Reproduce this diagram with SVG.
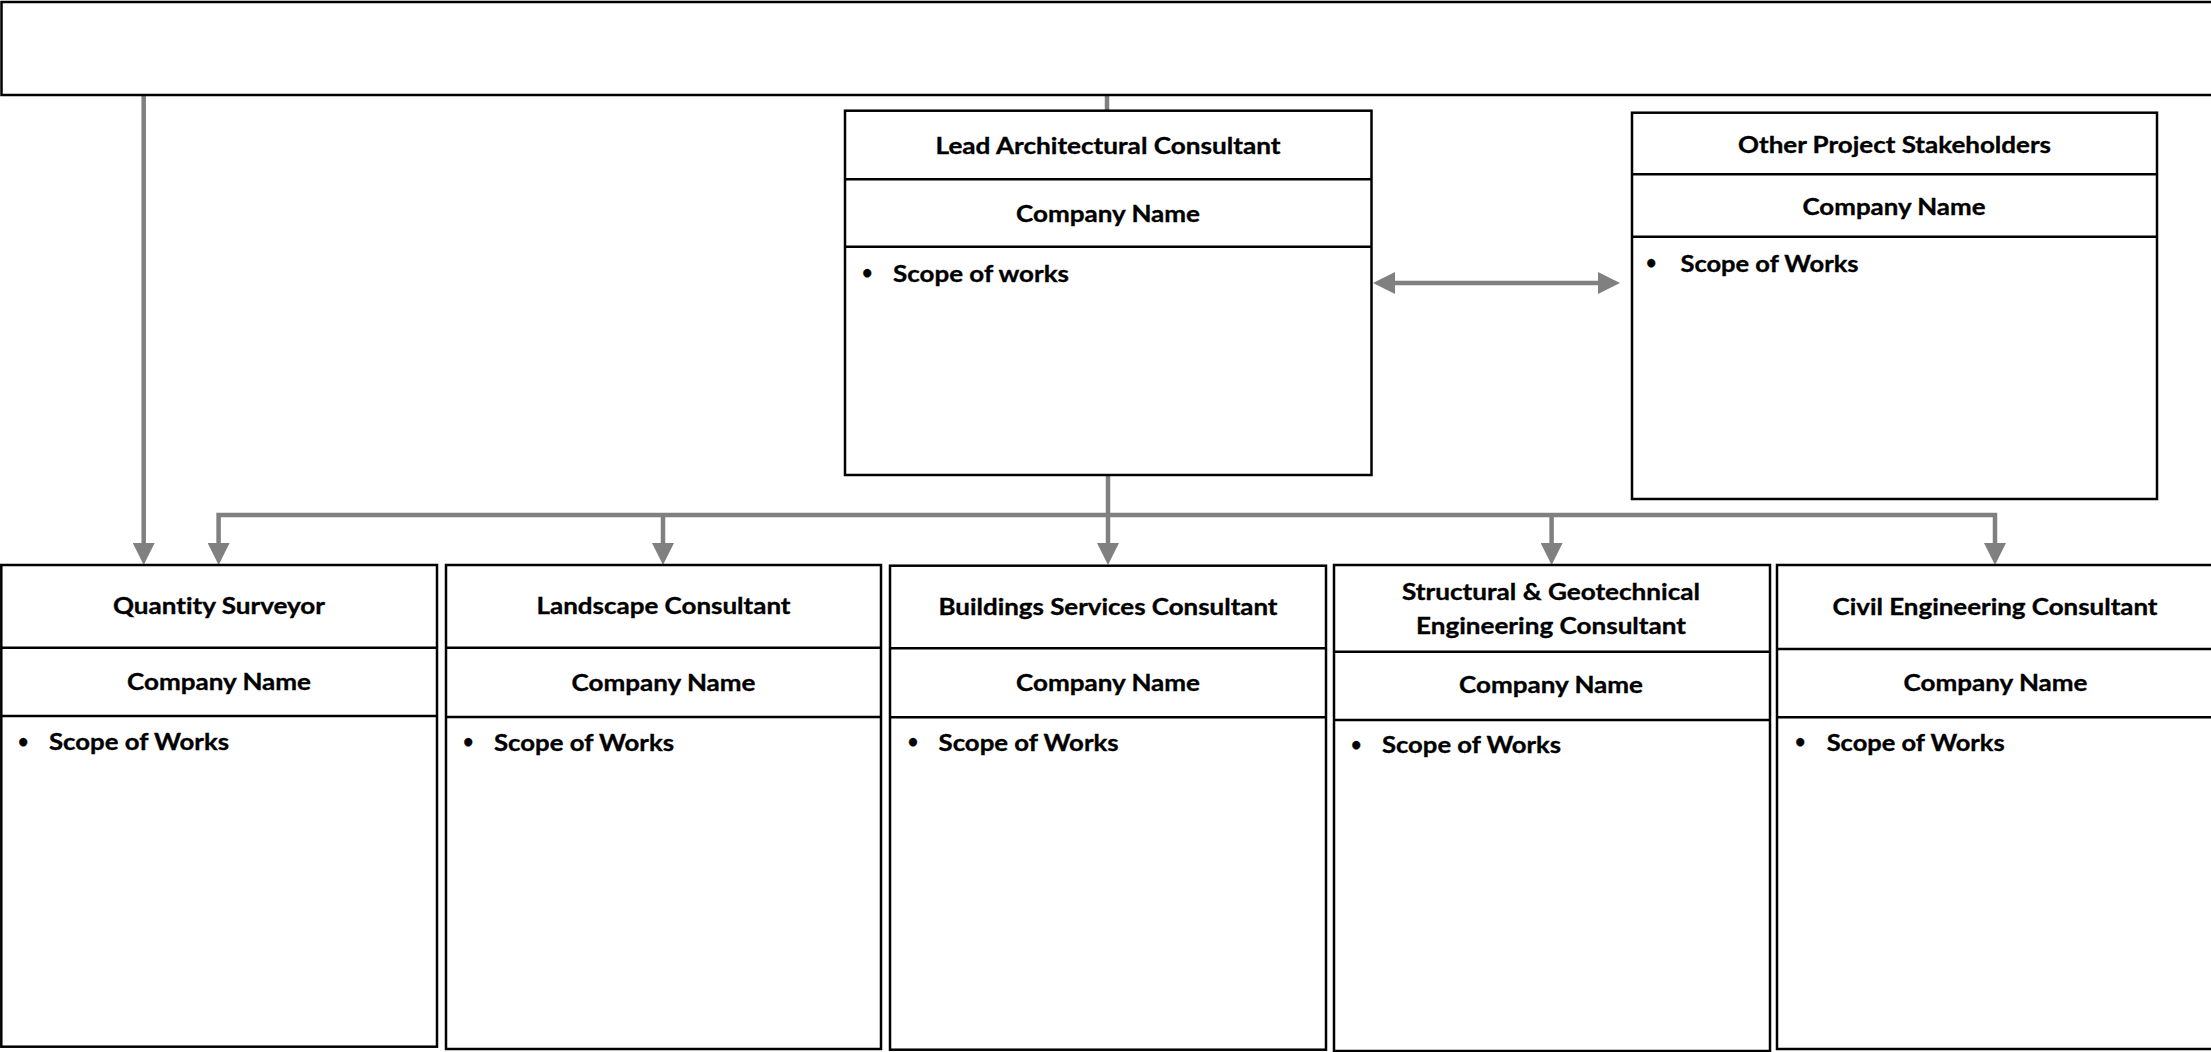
<svg xmlns="http://www.w3.org/2000/svg" width="2211" height="1052" viewBox="0 0 2211 1052">
<style>
.box{fill:#fff;stroke:#000;stroke-width:2.5}
.div{stroke:#000;stroke-width:2.5}
text{font-family:Lato,"Open Sans","Liberation Sans",sans-serif;font-weight:700;font-size:23.5px;fill:#000;font-variant-ligatures:none;stroke:#000;stroke-width:0.35}
.c{text-anchor:middle}
.b{font-size:18px}
.conn{fill:none;stroke:#808080;stroke-width:4.5}
</style>
<defs>
<marker id="ah" viewBox="0 0 22 22" refX="0" refY="11" markerWidth="22" markerHeight="22" markerUnits="userSpaceOnUse" orient="auto-start-reverse">
<path d="M0,0 L22,11 L0,22 z" fill="#808080"/>
</marker>
</defs>
<rect width="2211" height="1052" fill="#fff"/>

<g id="connectors">
<path class="conn" d="M143.7,95 V543" marker-end="url(#ah)"/>
<path class="conn" d="M1107,95 V111"/>
<path class="conn" d="M1108,475 V543" marker-end="url(#ah)"/>
<path class="conn" d="M218.6,543 V515 H1995 V543" marker-start="url(#ah)" marker-end="url(#ah)"/>
<path class="conn" d="M663,515 V543" marker-end="url(#ah)"/>
<path class="conn" d="M1551.6,515 V543" marker-end="url(#ah)"/>
<path class="conn" d="M1395,283 H1598" marker-start="url(#ah)" marker-end="url(#ah)"/>
</g>

<g id="top">
<rect class="box" x="1.5" y="2" width="2220" height="93"/>
</g>

<g id="lead-architectural">
<rect class="box" x="845" y="110.7" width="526.5" height="364.3"/>
<line class="div" x1="845" y1="179.3" x2="1371.5" y2="179.3"/>
<line class="div" x1="845" y1="246.7" x2="1371.5" y2="246.7"/>
<text class="c" x="1108" y="154" textLength="345" lengthAdjust="spacingAndGlyphs">Lead Architectural Consultant</text>
<text class="c" x="1108" y="221.5" textLength="184" lengthAdjust="spacingAndGlyphs">Company Name</text>
<text class="b" x="862" y="279">•</text>
<text x="893" y="281.7" textLength="176" lengthAdjust="spacingAndGlyphs">Scope of works</text>
</g>

<g id="other-stakeholders">
<rect class="box" x="1632" y="112.7" width="525" height="386.3"/>
<line class="div" x1="1632" y1="174.3" x2="2157" y2="174.3"/>
<line class="div" x1="1632" y1="236.7" x2="2157" y2="236.7"/>
<text class="c" x="1894.5" y="152.7" textLength="313" lengthAdjust="spacingAndGlyphs">Other Project Stakeholders</text>
<text class="c" x="1894" y="215" textLength="183" lengthAdjust="spacingAndGlyphs">Company Name</text>
<text class="b" x="1646" y="269">•</text>
<text x="1680.5" y="271.7" textLength="178" lengthAdjust="spacingAndGlyphs">Scope of Works</text>
</g>

<g id="quantity-surveyor">
<rect class="box" x="1.3" y="565" width="435.7" height="481.7"/>
<line class="div" x1="1.3" y1="647.7" x2="437" y2="647.7"/>
<line class="div" x1="1.3" y1="716" x2="437" y2="716"/>
<text class="c" x="219" y="614" textLength="212" lengthAdjust="spacingAndGlyphs">Quantity Surveyor</text>
<text class="c" x="219" y="690" textLength="184" lengthAdjust="spacingAndGlyphs">Company Name</text>
<text class="b" x="18" y="747.5">•</text>
<text x="49" y="750" textLength="180" lengthAdjust="spacingAndGlyphs">Scope of Works</text>
</g>

<g id="landscape">
<rect class="box" x="446" y="565" width="435" height="484"/>
<line class="div" x1="446" y1="647.7" x2="881" y2="647.7"/>
<line class="div" x1="446" y1="717" x2="881" y2="717"/>
<text class="c" x="663.5" y="614" textLength="254" lengthAdjust="spacingAndGlyphs">Landscape Consultant</text>
<text class="c" x="663.5" y="690.7" textLength="184" lengthAdjust="spacingAndGlyphs">Company Name</text>
<text class="b" x="463" y="748">•</text>
<text x="494" y="750.7" textLength="180" lengthAdjust="spacingAndGlyphs">Scope of Works</text>
</g>

<g id="building-services">
<rect class="box" x="890" y="565.7" width="436" height="484"/>
<line class="div" x1="890" y1="648.3" x2="1326" y2="648.3"/>
<line class="div" x1="890" y1="717.3" x2="1326" y2="717.3"/>
<text class="c" x="1108" y="615" textLength="339" lengthAdjust="spacingAndGlyphs">Buildings Services Consultant</text>
<text class="c" x="1108" y="690.7" textLength="184" lengthAdjust="spacingAndGlyphs">Company Name</text>
<text class="b" x="907.7" y="748">•</text>
<text x="938.6" y="750.7" textLength="180" lengthAdjust="spacingAndGlyphs">Scope of Works</text>
</g>

<g id="structural-geotechnical">
<rect class="box" x="1334" y="565" width="436" height="486"/>
<line class="div" x1="1334" y1="651.7" x2="1770" y2="651.7"/>
<line class="div" x1="1334" y1="720" x2="1770" y2="720"/>
<text class="c" x="1551" y="600" textLength="298" lengthAdjust="spacingAndGlyphs">Structural &amp; Geotechnical</text>
<text class="c" x="1551" y="634" textLength="270" lengthAdjust="spacingAndGlyphs">Engineering Consultant</text>
<text class="c" x="1551" y="693.3" textLength="184" lengthAdjust="spacingAndGlyphs">Company Name</text>
<text class="b" x="1351" y="750.5">•</text>
<text x="1382" y="753.3" textLength="179" lengthAdjust="spacingAndGlyphs">Scope of Works</text>
</g>

<g id="civil-engineering">
<rect class="box" x="1777" y="565" width="440" height="484"/>
<line class="div" x1="1777" y1="649" x2="2217" y2="649"/>
<line class="div" x1="1777" y1="717.3" x2="2217" y2="717.3"/>
<text class="c" x="1995" y="615" textLength="325" lengthAdjust="spacingAndGlyphs">Civil Engineering Consultant</text>
<text class="c" x="1995.5" y="690.7" textLength="184" lengthAdjust="spacingAndGlyphs">Company Name</text>
<text class="b" x="1795" y="748">•</text>
<text x="1826.7" y="750.7" textLength="178" lengthAdjust="spacingAndGlyphs">Scope of Works</text>
</g>
</svg>
